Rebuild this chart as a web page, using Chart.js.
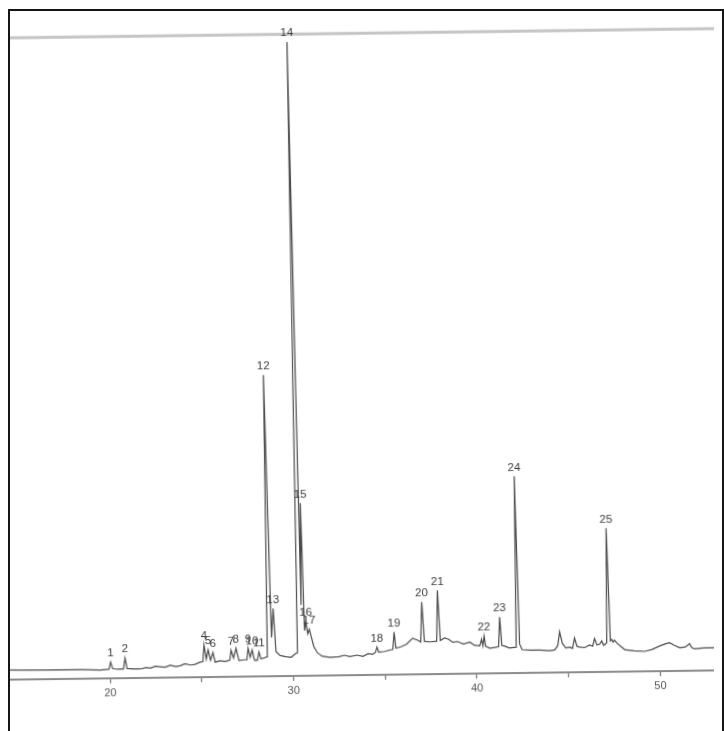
<!DOCTYPE html>
<html>
<head>
<meta charset="utf-8">
<script src="https://cdn.jsdelivr.net/npm/chart.js@4/dist/chart.umd.min.js"></script>
<style>
  html, body { margin: 0; padding: 0; background: #ffffff; }
  body { width: 724px; height: 731px; overflow: hidden; position: relative; }
  #paper {
    position: absolute; left: 10px; top: 0; width: 704px; height: 731px; overflow: hidden;
  }
  #trace {
    position: absolute; left: -10px; top: 0;
    transform-origin: 362px 365px;
    transform: rotate(-0.75deg) skewX(0.5deg);
  }
  #frame {
    position: absolute; left: 8px; top: 9px; width: 712px; height: 760px;
    border: 2px solid #151515; pointer-events: none;
  }
</style>
</head>
<body>
<div id="paper"><canvas id="trace" width="724" height="731"></canvas></div>
<div id="frame"></div>
<script>
// Retention-time axis (minutes)
const timeRange = [14.37, 53.85];
const tickTimes = [25, 30, 35, 40, 45, 50, 20];

// Numbered peaks: label, retention time, apex height
const peakLabels  = ['1', '2', '4', '5', '6', '7', '8', '9', '10', '11', '12', '13',
                     '14', '15', '16', '17', '18', '19', '20', '21', '22', '23', '24', '25'];
const peakTimes   = [20.05, 20.84, 25.16, 25.38, 25.64, 26.63, 26.90, 27.56, 27.78, 28.15, 28.72, 28.97,
                     30.40, 30.58, 30.74, 30.92, 34.59, 35.54, 37.08, 37.95, 40.44, 41.31, 42.27, 47.22];
const peakHeights = [2.5, 3.1, 5.0, 4.2, 3.8, 4.1, 4.4, 4.4, 4.1, 3.8, 46.7, 10.5,
                     98.3, 26.8, 8.4, 7.2, 4.3, 6.6, 11.2, 13.0, 5.8, 8.7, 30.5, 22.3];

// Detector baseline, peak feet and small unnumbered bumps
const traceTimes = [
  14.37, 16.5, 18.5, 19.47, 19.95, 20.15, 20.4, 20.74, 20.94, 21.3, 21.65, 22.0, 22.2, 22.5, 22.74,
  23.0, 23.3, 23.6, 23.83, 24.1, 24.4, 24.66, 24.9, 25.08, 25.27, 25.5, 25.75, 26.0, 26.3, 26.55,
  26.76, 27.05, 27.3, 27.48, 27.67, 27.9, 28.05, 28.25, 28.6, 28.85, 29.08, 29.3, 29.6, 29.9, 30.15,
  30.25, 30.5, 30.66, 30.83, 31.02, 31.15, 31.35, 31.6, 32.0, 32.5, 32.8, 33.1, 33.5, 33.81, 34.1,
  34.35, 34.5, 34.68, 35.0, 35.25, 35.45, 35.62, 35.9, 36.2, 36.54, 36.8, 36.98, 37.18, 37.5, 37.85,
  38.05, 38.28, 38.5, 38.72, 39.0, 39.3, 39.66, 39.9, 40.2, 40.3, 40.37, 40.52, 40.74, 41.0, 41.22,
  41.4, 41.55, 41.8, 42.18, 42.37, 42.5, 43.0, 43.47, 44.0, 44.28, 44.45, 44.56, 44.7, 44.88, 45.1,
  45.25, 45.37, 45.5, 45.64, 45.9, 46.19, 46.35, 46.46, 46.58, 46.73, 46.85, 46.95, 47.12, 47.32, 47.4,
  47.47, 47.55, 47.69, 48.1, 48.6, 49.2, 49.6, 50.0, 50.3, 50.55, 50.8, 51.1, 51.4, 51.64, 51.75,
  51.9, 52.4, 52.93, 53.85
];
const traceLevels = [
  1.5, 1.4, 1.4, 1.3, 1.4, 1.5, 1.4, 1.4, 1.5, 1.4, 1.4, 1.6, 1.5, 1.8, 1.7,
  1.6, 1.9, 1.7, 1.8, 2.1, 1.9, 2.0, 2.3, 2.4, 2.8, 2.6, 2.3, 2.5, 2.4, 2.6,
  2.9, 2.5, 2.6, 2.6, 3.0, 2.5, 2.5, 2.7, 3.0, 6.0, 3.8, 3.2, 3.0, 2.9, 3.5,
  3.6, 11.0, 7.0, 6.5, 6.0, 4.5, 3.5, 3.0, 2.8, 2.9, 3.1, 2.9, 3.1, 2.9, 3.3,
  3.2, 3.5, 3.5, 3.6, 3.8, 3.9, 4.1, 4.3, 4.7, 5.6, 5.3, 5.0, 5.1, 5.0, 5.1,
  5.2, 5.6, 5.4, 4.9, 5.0, 4.6, 4.9, 4.4, 4.3, 5.3, 4.3, 4.2, 3.9, 4.0, 4.1,
  4.3, 4.2, 3.9, 4.0, 4.5, 3.6, 3.5, 3.5, 3.4, 3.5, 4.2, 6.3, 4.5, 3.8, 3.9,
  3.7, 5.3, 4.0, 3.9, 3.8, 4.2, 4.0, 5.2, 4.2, 4.3, 4.8, 4.1, 4.5, 4.8, 5.0,
  4.6, 4.9, 4.4, 3.4, 3.2, 3.1, 3.4, 3.9, 4.2, 4.4, 4.0, 3.6, 3.7, 4.2, 3.6,
  3.4, 3.5, 3.5, 3.6
];

// Upper edge of the recorder chart paper
const paperEdgeTimes = [14.37, 53.85];
const paperEdgeLevels = [99.5, 99.5];

const chromatogram = traceTimes.map((t, i) => ({ x: t, y: traceLevels[i] }))
  .concat(peakTimes.map((t, i) => ({ x: t, y: peakHeights[i] })))
  .sort((a, b) => a.x - b.x);
const paperEdge = paperEdgeTimes.map((t, i) => ({ x: t, y: paperEdgeLevels[i] }));

// Writes the peak numbers just above each apex
const peakNumbers = {
  id: 'peakNumbers',
  afterDatasetsDraw(chart) {
    const { ctx, scales } = chart;
    ctx.save();
    ctx.font = '11.5px "Liberation Sans", Arial, sans-serif';
    ctx.fillStyle = '#3a3a3a';
    ctx.textAlign = 'center';
    ctx.textBaseline = 'bottom';
    peakLabels.forEach((label, i) => {
      const px = scales.x.getPixelForValue(peakTimes[i]);
      const py = scales.y.getPixelForValue(peakHeights[i]);
      ctx.fillText(label, px, py - 3);
    });
    ctx.restore();
  }
};

new Chart(document.getElementById('trace'), {
  type: 'line',
  data: {
    datasets: [
      {
        data: paperEdge,
        borderColor: '#c4c4c4',
        borderWidth: 3,
        pointRadius: 0,
        tension: 0
      },
      {
        data: chromatogram,
        borderColor: '#4a4a4a',
        borderWidth: 1.2,
        pointRadius: 0,
        tension: 0
      }
    ]
  },
  options: {
    responsive: false,
    animation: false,
    devicePixelRatio: 1,
    layout: { padding: { left: 0, right: 0, top: 30, bottom: 0 } },
    plugins: { legend: { display: false }, tooltip: { enabled: false } },
    scales: {
      x: {
        type: 'linear',
        min: timeRange[0],
        max: timeRange[1],
        afterBuildTicks(scale) {
          scale.ticks = tickTimes.slice().sort((a, b) => a - b).map(v => ({ value: v }));
        },
        afterFit(scale) { scale.height = 56; },
        ticks: {
          autoSkip: false,
          maxRotation: 0,
          padding: 3,
          color: '#555555',
          font: { family: '"Liberation Sans", Arial, sans-serif', size: 11 },
          callback: v => (v % 10 === 0 ? String(v) : '')
        },
        grid: {
          drawOnChartArea: false,
          drawTicks: true,
          tickLength: 5,
          color: '#777777',
          lineWidth: 1.2
        },
        border: { display: true, color: '#8a8a8a', width: 2 }
      },
      y: {
        display: false,
        min: 0,
        max: 100
      }
    }
  },
  plugins: [peakNumbers]
});
</script>
</body>
</html>
